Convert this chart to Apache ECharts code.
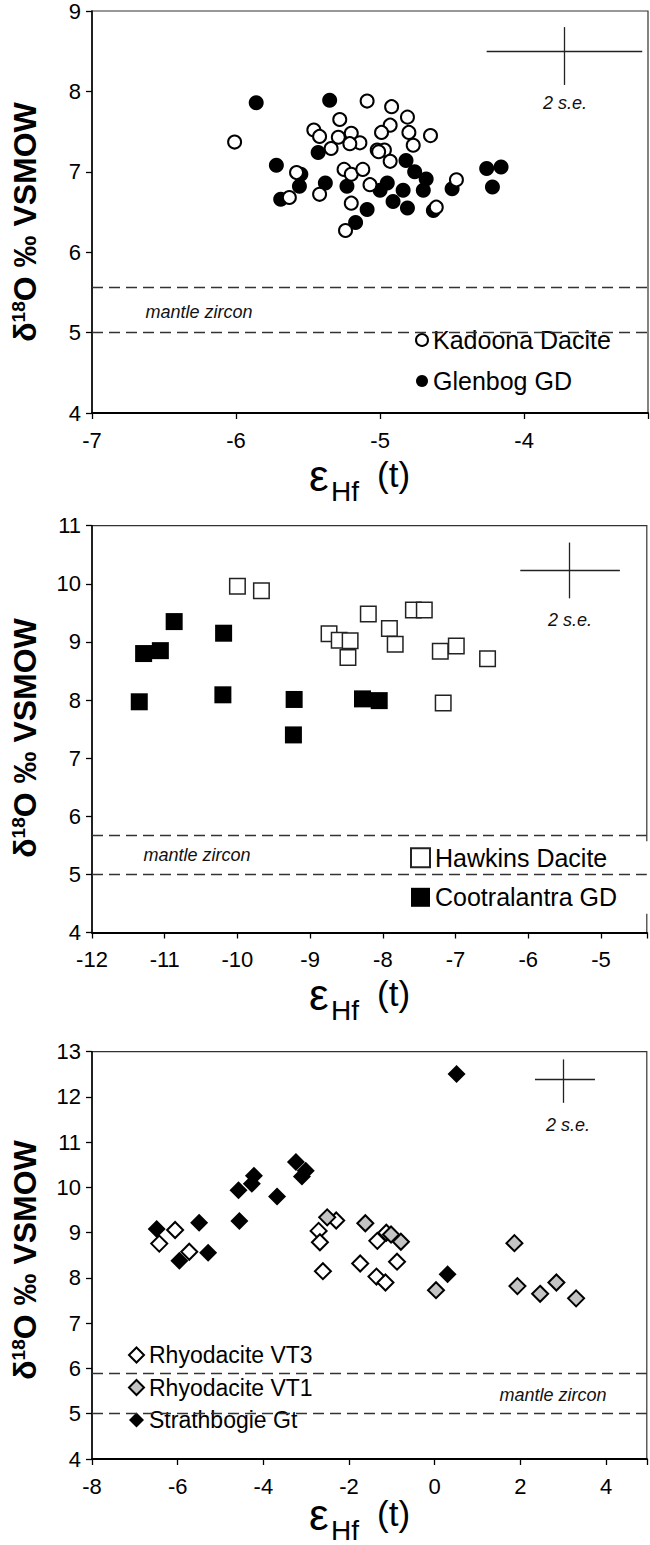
<!DOCTYPE html>
<html><head><meta charset="utf-8">
<script src="https://cdn.jsdelivr.net/npm/echarts@6/dist/echarts.min.js"></script>
<style>html,body{margin:0;padding:0;background:#fff}#c{width:650px;height:1545px}</style>
</head><body><div id="c"></div>
<script>
// ---------- Panel 1 data ----------
const kadoonaDacite = [[-6.01,7.37],[-5.09,7.88],[-4.92,7.81],[-5.28,7.65],[-4.81,7.68],[-4.93,7.58],[-4.99,7.49],[-4.80,7.49],[-4.65,7.45],[-4.77,7.33],[-5.46,7.52],[-5.42,7.44],[-5.29,7.43],[-5.20,7.48],[-5.14,7.36],[-5.34,7.29],[-5.21,7.35],[-5.02,7.27],[-4.97,7.27],[-4.93,7.13],[-5.58,6.99],[-5.63,6.68],[-5.42,6.72],[-5.25,7.03],[-5.20,6.97],[-5.12,7.03],[-5.07,6.84],[-5.20,6.61],[-5.24,6.27],[-4.47,6.90],[-4.61,6.56],[-5.01,7.25]];
const glenbogGD = [[-5.86,7.86],[-5.35,7.89],[-5.72,7.08],[-5.69,6.66],[-5.56,6.82],[-5.55,6.97],[-5.43,7.24],[-5.38,6.86],[-5.23,6.82],[-5.09,6.53],[-5.17,6.37],[-4.95,6.86],[-4.91,6.63],[-4.81,6.55],[-4.82,7.14],[-4.76,7.00],[-4.68,6.91],[-4.70,6.77],[-4.63,6.52],[-4.84,6.77],[-4.50,6.79],[-4.26,7.04],[-4.16,7.06],[-4.22,6.81],[-5.00,6.77]];
// ---------- Panel 2 data ----------
const hawkinsDacite = [[-10.00,9.96],[-9.67,9.88],[-8.20,9.48],[-7.58,9.55],[-7.43,9.55],[-8.74,9.14],[-8.60,9.03],[-8.45,9.02],[-8.48,8.73],[-7.91,9.23],[-7.83,8.96],[-7.21,8.84],[-6.99,8.93],[-6.56,8.71],[-7.17,7.95]];
const cootralantraGD = [[-10.87,9.35],[-10.19,9.15],[-11.29,8.80],[-11.06,8.85],[-11.35,7.97],[-10.20,8.09],[-9.22,8.01],[-9.23,7.40],[-8.28,8.02],[-8.05,7.99]];
// ---------- Panel 3 data ----------
const rhyodaciteVT3 = [[-6.43,8.76],[-6.06,9.06],[-5.73,8.58],[-2.71,9.04],[-2.68,8.79],[-2.30,9.27],[-2.61,8.15],[-1.74,8.32],[-1.34,8.82],[-1.36,8.03],[-1.15,7.90],[-0.88,8.36],[-1.13,9.00]];
const rhyodaciteVT1 = [[-2.51,9.34],[-1.62,9.21],[-1.02,8.96],[-0.79,8.80],[0.03,7.73],[1.86,8.77],[1.93,7.82],[2.46,7.65],[2.84,7.90],[3.30,7.55]];
const strathbogieGt = [[-6.49,9.08],[-5.96,8.38],[-5.50,9.22],[-5.29,8.56],[-4.56,9.26],[-4.58,9.94],[-4.27,10.08],[-4.22,10.26],[-3.68,9.80],[-3.24,10.56],[-3.01,10.37],[-3.10,10.24],[0.30,8.08],[0.51,12.51]];

// ---------- axes, reference lines, 2 s.e. crosses ----------
const xRanges = [[-7,-3.14,1],[-12,-4.37,1],[-8,4.95,2]];
const yRanges = [[4,9,1],[4,11,1],[4,13,1]];
const mantleLines = [[5.57,5.0],[5.68,5.0],[5.9,5.0]];
const seCrossH = [[[-4.26,8.50],[-3.18,8.50]],[[-6.11,10.225],[-4.74,10.225]],[[2.34,12.40],[3.74,12.40]]];
const seCrossV = [[[-3.72,8.08],[-3.72,8.80]],[[-5.43,9.75],[-5.43,10.71]],[[3.00,11.87],[3.00,12.83]]];

const FF = '"Liberation Sans", Arial, Helvetica, sans-serif';
const grids = [
  {left:92, top:11, width:556, height:402},
  {left:92, top:525.7, width:554.8, height:406.8},
  {left:92, top:1051.7, width:554.8, height:407.3}
];

const chart = echarts.init(document.getElementById('c'), null, {renderer:'svg'});

const xAxes = xRanges.map((r,i)=>({
  gridIndex:i, type:'value', min:r[0], max:r[1], interval:r[2],
  axisLine:{show:true, onZero:false, lineStyle:{color:'#000', width:2}},
  axisTick:{show:true, length:6, lineStyle:{color:'#000', width:1.3}},
  axisLabel:{margin:16, fontSize:22, color:'#000', fontFamily:FF,
    formatter:v=> (Math.abs(v-Math.round(v))<1e-6 ? String(Math.round(v)) : '')},
  splitLine:{show:false}
}));
const yAxes = yRanges.map((r,i)=>({
  gridIndex:i, type:'value', min:r[0], max:r[1], interval:r[2],
  axisLine:{show:true, onZero:false, lineStyle:{color:'#000', width:1.5}},
  axisTick:{show:true, length:6, lineStyle:{color:'#000', width:1.3}},
  axisLabel:{margin:11, fontSize:22, color:'#000', fontFamily:FF},
  splitLine:{show:false}
}));

function refLines(i){
  const dash = {color:'#333', width:1.3, type:[11,6]};
  const solid = {color:'#222', width:1.3, type:'solid'};
  return {
    silent:true, symbol:['none','none'], animation:false,
    label:{show:false},
    emphasis:{disabled:true},
    data:[
      {yAxis:mantleLines[i][0], lineStyle:dash},
      {yAxis:mantleLines[i][1], lineStyle:dash},
      [{coord:seCrossH[i][0], lineStyle:solid},{coord:seCrossH[i][1]}],
      [{coord:seCrossV[i][0], lineStyle:solid},{coord:seCrossV[i][1]}]
    ]
  };
}

function sc(name, data, i, symbol, size, fill, border, bw, withLines){
  const s = {
    type:'scatter', name, data, xAxisIndex:i, yAxisIndex:i,
    symbol, symbolSize:size,
    itemStyle:{color:fill, borderColor:border, borderWidth:bw, opacity:1},
    emphasis:{disabled:true}, silent:true, animation:false
  };
  if (withLines) s.markLine = refLines(i);
  return s;
}

const series = [
  sc('Glenbog GD', glenbogGD, 0, 'circle', 15, '#000', '#000', 0, true),
  sc('Kadoona Dacite', kadoonaDacite, 0, 'circle', 13, '#fff', '#000', 2, false),
  sc('Cootralantra GD', cootralantraGD, 1, 'rect', 17, '#000', '#000', 0, true),
  sc('Hawkins Dacite', hawkinsDacite, 1, 'rect', 15.5, '#fff', '#222', 1.5, false),
  sc('Strathbogie Gt', strathbogieGt, 2, 'diamond', 18, '#000', '#000', 0, true),
  sc('Rhyodacite VT3', rhyodaciteVT3, 2, 'diamond', 16, '#fff', '#000', 2, false),
  sc('Rhyodacite VT1', rhyodaciteVT1, 2, 'diamond', 16, '#c4c4c4', '#000', 2, false)
];

const legendText = (fs)=>({fontSize:fs, color:'#000', fontFamily:FF});
const legends = [
  {data:['Kadoona Dacite','Glenbog GD'], orient:'vertical', left:390, top:323.5,
   padding:[4,31,4,25], itemWidth:12, itemHeight:12, itemGap:16, itemTextGap:4,
   backgroundColor:'#fff', textStyle:legendText(25), selectedMode:false},
  {data:['Hawkins Dacite','Cootralantra GD'], orient:'vertical', left:394, top:841.2,
   padding:[4,32,4,16], itemWidth:19, itemHeight:19, itemGap:14.6, itemTextGap:2,
   backgroundColor:'#fff', textStyle:legendText(25), selectedMode:false},
  {data:['Rhyodacite VT3','Rhyodacite VT1','Strathbogie Gt'], orient:'vertical', left:120, top:1341.5,
   padding:[2,39,2,8], itemWidth:15, itemHeight:15, itemGap:9.5, itemTextGap:8,
   backgroundColor:'#fff', textStyle:legendText(23), selectedMode:false}
];

const graphic = [];
const yLabelCenter = [222, 738, 1260];
const xTitleShift = [0, 519.7, 1039.7];
const mantlePos = [[199,312],[197,855],[553,1395]];
const sePos = [[565,103],[570,620],[568,1125]];
for (let i=0;i<3;i++){
  graphic.push({type:'text', x:25, y:yLabelCenter[i], rotation:Math.PI/2, silent:true,
    style:{text:'{a|δ}{s|18}{a|O ‰ VSMOW}', fill:'#000', align:'center', verticalAlign:'middle',
      rich:{a:{fontSize:32, fontWeight:'bold', fontFamily:FF, lineHeight:32},
            s:{fontSize:19, fontWeight:'bold', fontFamily:FF, lineHeight:19, verticalAlign:'top'}}}});
  const d = xTitleShift[i];
  graphic.push({type:'text', x:309, y:475+d, silent:true,
    style:{text:'ε', fontSize:44, fontFamily:FF, fill:'#000', align:'left', verticalAlign:'middle'}});
  graphic.push({type:'text', x:331, y:491+d, silent:true,
    style:{text:'Hf', fontSize:28, fontFamily:FF, fill:'#000', align:'left', verticalAlign:'middle'}});
  graphic.push({type:'text', x:377, y:474+d, silent:true,
    style:{text:'(t)', fontSize:35, fontFamily:FF, fill:'#000', align:'left', verticalAlign:'middle'}});
  graphic.push({type:'text', x:mantlePos[i][0], y:mantlePos[i][1], silent:true,
    style:{text:'mantle zircon', fontSize:18, fontStyle:'italic', fontFamily:FF, fill:'#111', align:'center', verticalAlign:'middle'}});
  graphic.push({type:'text', x:sePos[i][0], y:sePos[i][1], silent:true,
    style:{text:'2 s.e.', fontSize:18, fontStyle:'italic', fontFamily:FF, fill:'#111', align:'center', verticalAlign:'middle'}});
}

chart.setOption({
  backgroundColor:'#fff',
  animation:false,
  grid: grids.map(g=>Object.assign({show:true, borderColor:'#333', borderWidth:1.2, backgroundColor:'transparent', containLabel:false, outerBoundsMode:'none'}, g)),
  xAxis: xAxes,
  yAxis: yAxes,
  legend: legends,
  series,
  graphic
});
</script>
</body></html>
